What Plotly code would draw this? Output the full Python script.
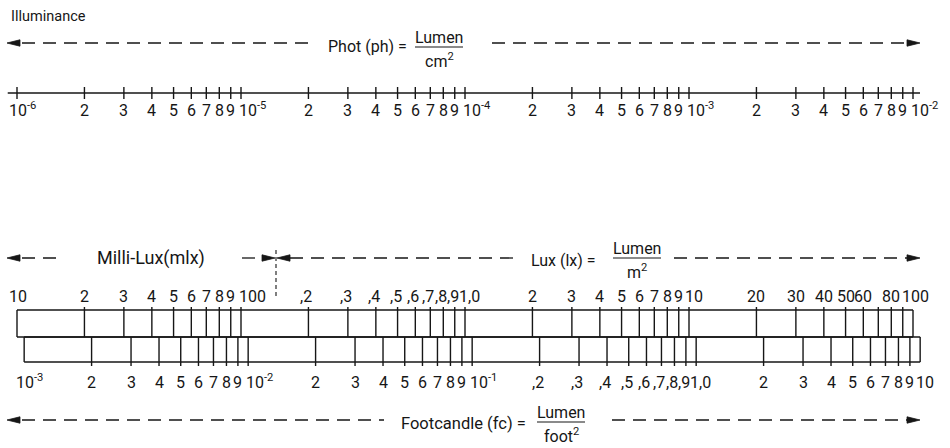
import numpy as np
import plotly.graph_objects as go

# ---------------- scale data ----------------
LUX_PER_PHOT = 1e4        # 1 ph = 10^4 lx
LUX_PER_FC = 10.764       # 1 fc = 10.764 lx

MANTISSAS = [1, 2, 3, 4, 5, 6, 7, 8, 9]

PHOT_DECADES = [1e-6, 1e-5, 1e-4, 1e-3]
PHOT_END = 1e-2
LUX_DECADES = [0.01, 0.1, 1.0, 10.0]
LUX_END = 100.0
FC_DECADES = [1e-3, 1e-2, 1e-1, 1.0]
FC_END = 10.0

DIGITS = ["2", "3", "4", "5", "6", "7", "8", "9"]
COMMA_DIGITS = [",2", ",3", ",4", ",5", ",6", ",7", ",8", ",9"]

PHOT_LABELS = (["10<sup>-6</sup>"] + DIGITS + ["10<sup>-5</sup>"] + DIGITS +
               ["10<sup>-4</sup>"] + DIGITS + ["10<sup>-3</sup>"] + DIGITS +
               ["10<sup>-2</sup>"])
LUX_LABELS = (["10"] + DIGITS + ["100"] + COMMA_DIGITS + ["1,0"] + DIGITS +
              ["10", "20", "30", "40", "50", "60", "", "80", "", "100"])
FC_LABELS = (["10<sup>-3</sup>"] + DIGITS + ["10<sup>-2</sup>"] + DIGITS +
             ["10<sup>-1</sup>"] + COMMA_DIGITS + ["1,0"] + DIGITS + ["10"])


def decade_ticks(decades, end):
    return [d * m for d in decades for m in MANTISSAS] + [end]


phot_lux = [v * LUX_PER_PHOT for v in decade_ticks(PHOT_DECADES, PHOT_END)]
lux_lux = decade_ticks(LUX_DECADES, LUX_END)
fc_lux = [v * LUX_PER_FC for v in decade_ticks(FC_DECADES, FC_END)]

# ---------------- styling / layout ----------------
W, H = 950, 448
INK = "#161616"
FONT = "Roboto, Liberation Sans, sans-serif"
LW = 1.4
TICK_FONT = 16

PX_PER_DECADE = 224.0
X0_LOG = np.log10(LUX_DECADES[0]) - 17 / PX_PER_DECADE
X1_LOG = X0_LOG + W / PX_PER_DECADE

fig = go.Figure()


def segments(xs, y0, y1):
    xx, yy = [], []
    for x in xs:
        xx += [x, x, None]
        yy += [y0, y1, None]
    return xx, yy


def add_lines(xx, yy, width=LW):
    fig.add_trace(go.Scatter(x=xx, y=yy, mode="lines", hoverinfo="skip",
                             line=dict(color=INK, width=width),
                             xaxis="x", yaxis="y"))


# --- phot axis ---
Y_PH = 93
add_lines([phot_lux[0] / 1.1, phot_lux[-1] * 1.075], [Y_PH, Y_PH])
add_lines(*segments(phot_lux, Y_PH - 6, Y_PH + 6))

# --- lux bar ---
Y_LX_TOP, Y_MID, Y_FC_BOT = 310, 337, 362
add_lines([lux_lux[0], lux_lux[-1]], [Y_LX_TOP, Y_LX_TOP])
add_lines([lux_lux[0], lux_lux[-1]], [Y_MID, Y_MID])
add_lines(*segments([lux_lux[0], lux_lux[-1]], Y_LX_TOP, Y_MID))
add_lines(*segments(lux_lux[1:-1], Y_LX_TOP - 3, Y_MID))

# --- footcandle bar ---
add_lines([fc_lux[0], fc_lux[-1]], [Y_MID, Y_MID])
add_lines([fc_lux[0], fc_lux[-1]], [Y_FC_BOT, Y_FC_BOT])
add_lines(*segments([fc_lux[0], fc_lux[-1]], Y_MID, Y_FC_BOT))
add_lines(*segments(fc_lux[1:-1], Y_MID, Y_FC_BOT + 4))

annotations = []


def tick_labels(values, labels, y_bottom, size=TICK_FONT):
    n = len(labels)
    for i, (v, t) in enumerate(zip(values, labels)):
        if not t:
            continue
        anchor, shift = "center", 0
        if t == "1,0":
            anchor, shift = "left", -7
        elif t.startswith("1") and len(t) > 1:
            if i == 0:
                anchor, shift = "left", -9
            elif i == n - 1 and t == "100":
                anchor, shift = "center", 2
            elif t == "10":
                anchor, shift = "left", -5
            else:
                anchor, shift = "left", -3
        elif t.startswith(","):
            shift = -2
        annotations.append(dict(
            x=np.log10(v), y=y_bottom, xref="x", yref="y", text=t,
            showarrow=False, xanchor=anchor, yanchor="bottom", xshift=shift,
            borderpad=0, font=dict(family=FONT, size=size, color=INK)))


tick_labels(phot_lux, PHOT_LABELS, 121)
tick_labels(lux_lux, LUX_LABELS, 307)
tick_labels(fc_lux, FC_LABELS, 393)

shapes = []
DASH = "13px,8px"


def dashed(x0, x1, y, dash=DASH):
    shapes.append(dict(type="line", xref="x2", yref="y", x0=x0, x1=x1, y0=y, y1=y,
                       line=dict(color=INK, width=1.3, dash=dash)))


def head(tip, y, direction):
    b = tip + 13 * direction
    shapes.append(dict(type="path", xref="x2", yref="y",
                       path=f"M {tip},{y} L {b},{y - 3.2} L {b},{y + 3.2} Z",
                       fillcolor=INK, line=dict(color=INK, width=0.8)))


def text(x, y, t, size=16, anchor="center"):
    annotations.append(dict(x=x, y=y, xref="x2", yref="y", text=t, showarrow=False,
                            xanchor=anchor, yanchor="middle",
                            font=dict(family=FONT, size=size, color=INK)))


def fraction(xc, y_line, half, num, den, size=16):
    shapes.append(dict(type="line", xref="x2", yref="y", x0=xc - half, x1=xc + half,
                       y0=y_line, y1=y_line, line=dict(color=INK, width=1.2)))
    text(xc, y_line - 10, num, size)
    text(xc, y_line + 13, den, size)


# title
text(9, 16, "Illuminance", 14.5, "left")

# phot row
Y_A1 = 43
head(7, Y_A1, 1)
dashed(22, 312, Y_A1)
text(367, 46, "Phot (ph) =")
fraction(439, 47, 24, "Lumen", "cm<sup>2</sup>")
dashed(492, 908, Y_A1)
head(920, Y_A1, -1)

# lux row
Y_A2 = 258
head(7, Y_A2, 1)
dashed(22, 64, Y_A2)
text(151, Y_A2, "Milli-Lux(mlx)", 18)
dashed(242, 262, Y_A2)
head(275, Y_A2, -1)
head(277, Y_A2, 1)
shapes.append(dict(type="line", xref="x2", yref="y", x0=276, x1=276, y0=250, y1=296,
                   line=dict(color=INK, width=1.1, dash="4px,3px")))
dashed(290, 518, Y_A2)
text(563, 260, "Lux (lx) =")
fraction(637, 258, 24, "Lumen", "m<sup>2</sup>")
dashed(674, 908, Y_A2)
head(920, Y_A2, -1)

# footcandle row
Y_A3 = 420
head(7, Y_A3, 1)
dashed(22, 384, Y_A3)
text(463, 423, "Footcandle (fc) =", 16.5)
fraction(561, 422, 24, "Lumen", "foot<sup>2</sup>")
dashed(612, 908, Y_A3)
head(920, Y_A3, -1)

fig.update_layout(
    width=W, height=H, margin=dict(l=0, r=0, t=0, b=0),
    paper_bgcolor="white", plot_bgcolor="white", showlegend=False,
    xaxis=dict(type="log", range=[X0_LOG, X1_LOG], visible=False, fixedrange=True),
    xaxis2=dict(range=[0, W], overlaying="x", anchor="y", visible=False, fixedrange=True),
    yaxis=dict(range=[H, 0], visible=False, fixedrange=True),
    shapes=shapes, annotations=annotations,
)

fig.write_html("out.html")
